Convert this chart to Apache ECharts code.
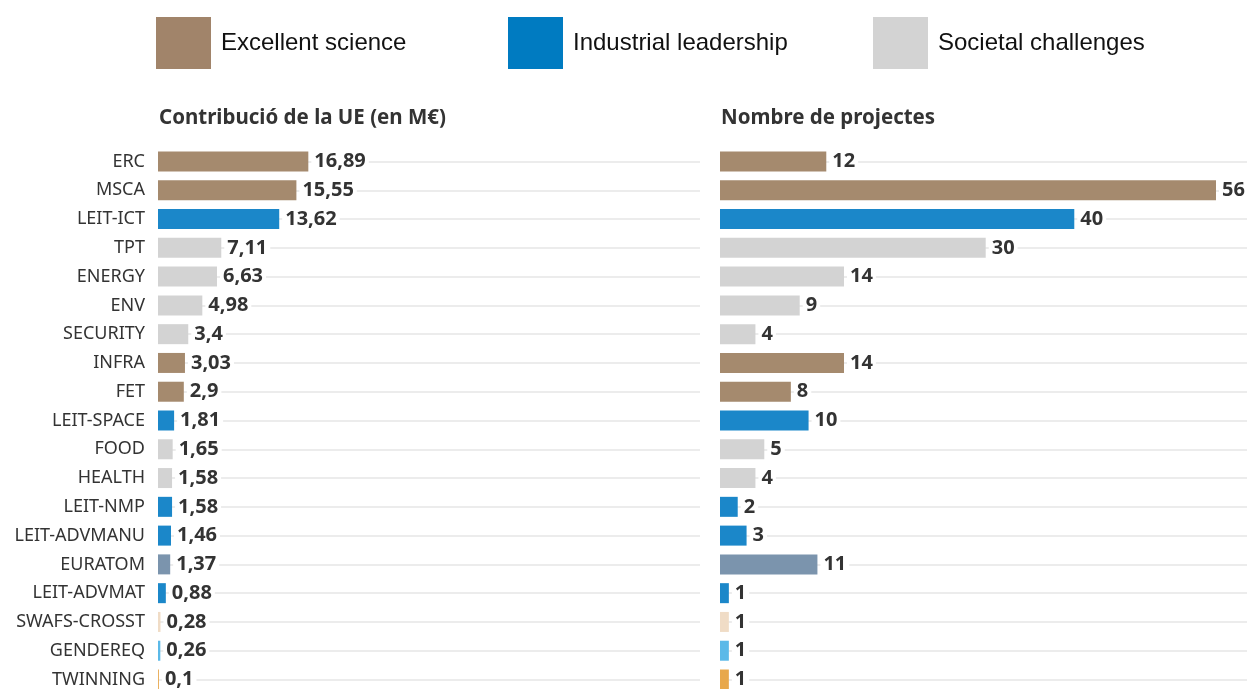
<!DOCTYPE html>
<html>
<head>
<meta charset="utf-8">
<script src="https://cdn.jsdelivr.net/npm/echarts@6/dist/echarts.min.js"></script>
<style>
html,body{margin:0;padding:0;background:#fff;}
#chart{width:1247px;height:689px;}
</style>
</head>
<body>
<div id="chart"></div>
<script>
var categories = ['ERC','MSCA','LEIT-ICT','TPT','ENERGY','ENV','SECURITY','INFRA','FET','LEIT-SPACE','FOOD','HEALTH','LEIT-NMP','LEIT-ADVMANU','EURATOM','LEIT-ADVMAT','SWAFS-CROSST','GENDEREQ','TWINNING'];
var contribution = [16.89,15.55,13.62,7.11,6.63,4.98,3.4,3.03,2.9,1.81,1.65,1.58,1.58,1.46,1.37,0.88,0.28,0.26,0.1];
var projects = [12,56,40,30,14,9,4,14,8,10,5,4,2,3,11,1,1,1,1];
var groups = ['ES','ES','IL','SC','SC','SC','SC','ES','ES','IL','SC','SC','IL','IL','EURATOM','IL','SWAFS','GENDER','TWIN'];
var legendNames = ['Excellent science','Industrial leadership','Societal challenges'];
var titles = ['Contribució de la UE (en M€)','Nombre de projectes'];

var groupColors = {ES:'#a58a6e', IL:'#1b87c9', SC:'#d3d3d3', EURATOM:'#7b94ad', SWAFS:'#f0dcc6', GENDER:'#5bb9e8', TWIN:'#e8a84c'};
var legendColors = ['#a1846a','#007bc1','#d3d3d3'];
var legendLeft = [156, 508, 873];

var FONT = '"Noto Sans", sans-serif';

function barData(vals){
  return vals.map(function(v,i){ return {value:v, itemStyle:{color:groupColors[groups[i]]}}; });
}

var chart = echarts.init(document.getElementById('chart'));

var firstRow = 161.5, lastRow = 679.5;

var option = {
  animation:false,
  backgroundColor:'#fff',
  title: titles.map(function(t,i){
    return {text:t, left: i===0?159:721, top:108, padding:0,
      textStyle:{fontFamily:FONT, fontWeight:'bold', fontSize:20.5, color:'#333'}};
  }),
  legend: legendNames.map(function(n,i){
    return {data:[n], left:legendLeft[i], top:17, padding:0, icon:'rect', itemWidth:55, itemHeight:52, itemGap:10,
      selectedMode:false,
      textStyle:{fontFamily:'"Liberation Sans", Arial, sans-serif', fontSize:24, color:'#111', padding:[3,0,0,5]}};
  }),
  grid:[
    {left:158, top:firstRow, width:534, height:lastRow-firstRow},
    {left:720, top:firstRow, width:527, height:lastRow-firstRow}
  ],
  xAxis:[
    {gridIndex:0, type:'value', min:0, max:60, show:false},
    {gridIndex:1, type:'value', min:0, max:59.5, show:false}
  ],
  yAxis:[
    {gridIndex:0, type:'category', data:categories, inverse:true, offset:8, boundaryGap:false,
      axisLine:{show:false},
      axisTick:{show:true, inside:true, alignWithLabel:true, interval:0, length:542, lineStyle:{color:'#e6e6e6', width:1.5}},
      axisLabel:{interval:0, margin:5, fontFamily:FONT, fontSize:18, color:'#333'},
      splitLine:{show:false}},
    {gridIndex:1, type:'category', data:categories, inverse:true, boundaryGap:false,
      axisLine:{show:false},
      axisTick:{show:true, inside:true, alignWithLabel:true, interval:0, length:527, lineStyle:{color:'#e6e6e6', width:1.5}},
      axisLabel:{show:false},
      splitLine:{show:false}}
  ],
  series:[
    {type:'bar', xAxisIndex:0, yAxisIndex:0, data:barData(contribution), barWidth:20,
      label:{show:true, position:'right', distance:3, backgroundColor:'#fff', padding:[0,3],
        fontFamily:FONT, fontWeight:'bold', fontSize:20, color:'#333',
        formatter:function(p){ return String(p.value).replace('.', ','); }}},
    {type:'bar', xAxisIndex:1, yAxisIndex:1, data:barData(projects), barWidth:20,
      label:{show:true, position:'right', distance:3, backgroundColor:'#fff', padding:[0,3],
        fontFamily:FONT, fontWeight:'bold', fontSize:20, color:'#333'}}
  ].concat(legendNames.map(function(n,i){
    return {type:'scatter', name:n, xAxisIndex:0, yAxisIndex:0, data:[], itemStyle:{color:legendColors[i], opacity:1}};
  }))
};
chart.setOption(option);
</script>
</body>
</html>
